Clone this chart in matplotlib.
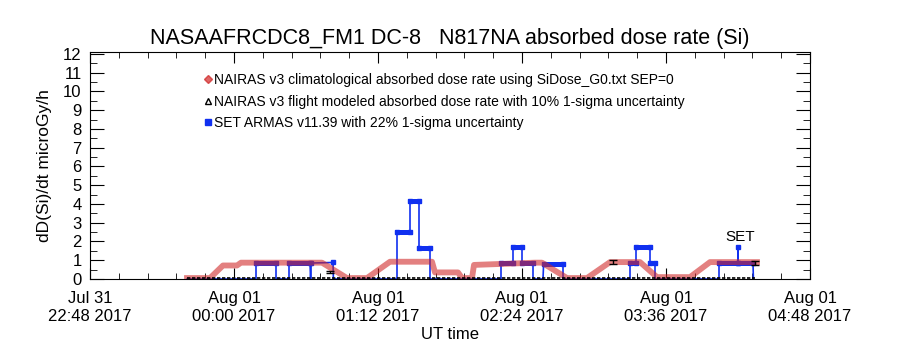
#!/usr/bin/env python3
import datetime as dt
import numpy as np
import matplotlib
matplotlib.use("Agg")
import matplotlib.pyplot as plt
import matplotlib.dates as mdates
from matplotlib.lines import Line2D
from matplotlib.ticker import MultipleLocator

plt.rcParams['font.family'] = ['Liberation Sans', 'DejaVu Sans']

# times are minutes after 2017-08-01 00:00 UT (negative = Jul 31)
clim_t = [-23.5, -12, -5.5, 1.5, 3.5, 44, 56.5, 66.5, 78, 99, 100.5, 112, 114, 119, 120, 133, 150.5, 154, 166.5, 176.5, 188, 203, 211.5, 228, 238, 261.5]
clim_v = [0.05, 0.05, 0.72, 0.72, 0.87, 0.87, 0.05, 0.05, 0.92, 0.92, 0.35, 0.35, 0.05, 0.05, 0.75, 0.8, 0.87, 0.87, 0.05, 0.05, 0.9, 0.9, 0.1, 0.1, 0.9, 0.9]

set_t = [-23.5, 11, 11, 21, 21, 27.5, 27.5, 38, 38.3, 38.6, 49.5, 49.7,
         81.5, 81.5, 88, 88, 92.5, 92.5, 98, 98,
         133.5, 133.5, 139.5, 139.5, 144, 144, 149.5, 149.5, 154.5, 154.8, 164.5, 164.5,
         198, 198, 201, 201, 208, 208, 210.5, 210.5,
         242.5, 242.5, 252, 252, 252, 259.5, 259.7]
set_v = [0, 0, 0.85, 0.85, 0, 0, 0.85, 0.85, 0, 0.85, 0.88, 0,
         0, 2.5, 2.5, 4.15, 4.15, 1.67, 1.67, 0,
         0, 0.85, 0.85, 1.72, 1.72, 0.85, 0.85, 0, 0, 0.8, 0.8, 0,
         0, 0.85, 0.85, 1.72, 1.72, 0.85, 0.85, 0,
         0, 0.85, 0.85, 1.72, 0.85, 0.85, 0]

flt_t = [-23.5, 260.5]
flt_v = [0.03, 0.03]
flt_err_t = [48, 189.5, 260.5]
flt_err_v = [0.37, 0.9, 0.85]

base = dt.datetime(2017, 8, 1, 0, 0)
def to_dt(mins):
    return [base + dt.timedelta(minutes=m) for m in mins]

fig = plt.figure(figsize=(9, 3.5), dpi=100)
ax = fig.add_axes([0.1, 0.2029, 0.8, 0.6485])

blue = '#1030f0'
red = '#d02525'

st = to_dt(set_t)
ax.plot(st, set_v, color=blue, lw=1.2, zorder=2)
for i in range(len(set_v) - 1):
    if set_v[i] > 0 and set_v[i] == set_v[i + 1]:
        ax.plot(st[i:i + 2], set_v[i:i + 2], color=blue, lw=3.6,
                solid_capstyle='projecting', zorder=2)
pos = [i for i, v in enumerate(set_v) if v > 0]
ax.plot([st[i] for i in pos], [set_v[i] for i in pos], 's', color=blue, ms=3.5, zorder=2)

ax.plot(to_dt(clim_t), clim_v, color=red, lw=4.2, alpha=0.58, zorder=3)

ax.plot(to_dt(flt_t), flt_v, color='black', lw=1.2, ls=(0, (2, 1)), zorder=4)
ax.errorbar(to_dt(flt_err_t), flt_err_v, yerr=[v * 0.1 for v in flt_err_v],
            fmt='none', ecolor='black', elinewidth=1, capsize=3, zorder=4)

ax.text(to_dt([245.5])[0], 2.0, 'SET', fontsize=11)

x0 = base - dt.timedelta(minutes=72)
x1 = base + dt.timedelta(minutes=288)
ax.set_xlim(x0, x1)
ax.set_ylim(0, 12.1)
ax.set_xticks(to_dt([-72, 0, 72, 144, 216, 288]))
ax.set_xticks(to_dt(list(np.arange(-72, 289, 14.4))), minor=True)
ax.xaxis.set_major_formatter(mdates.DateFormatter('%b %d\n%H:%M %Y'))
ax.yaxis.set_major_locator(MultipleLocator(1))
ax.yaxis.set_minor_locator(MultipleLocator(0.5))
ax.tick_params(which='both', direction='in', top=True, right=True, labelsize=12)
ax.tick_params(axis='y', which='major', length=10)
ax.tick_params(axis='y', which='minor', length=5)
ax.tick_params(axis='x', which='major', length=8)
ax.tick_params(axis='x', which='minor', length=4)
ax.tick_params(axis='x', pad=9)
ax.tick_params(axis='y', pad=6)

ax.set_title('NASAAFRCDC8_FM1 DC-8   N817NA absorbed dose rate (Si)', fontsize=15.5, pad=6)
ax.set_ylabel('dD(Si)/dt microGy/h', fontsize=12.5, labelpad=8)
ax.set_xlabel('UT time', fontsize=12, labelpad=2)

handles = [
    Line2D([], [], ls='none', marker='D', color=red, ms=4, alpha=0.7),
    Line2D([], [], ls='none', marker='^', mfc='none', mec='black', ms=5),
    Line2D([], [], ls='none', marker='s', color=blue, ms=4),
]
labels = [
    'NAIRAS v3 climatological absorbed dose rate using SiDose_G0.txt SEP=0',
    'NAIRAS v3 flight modeled absorbed dose rate with 10% 1-sigma uncertainty',
    'SET ARMAS v11.39 with 22% 1-sigma uncertainty',
]
ax.legend(handles, labels, loc='upper left', bbox_to_anchor=(197 / 900, 1 - 66 / 350),
          bbox_transform=fig.transFigure, frameon=False, fontsize=10,
          handlelength=0.6, handletextpad=0.15, labelspacing=0.55, borderpad=0)

fig.savefig('out.png', dpi=100)
